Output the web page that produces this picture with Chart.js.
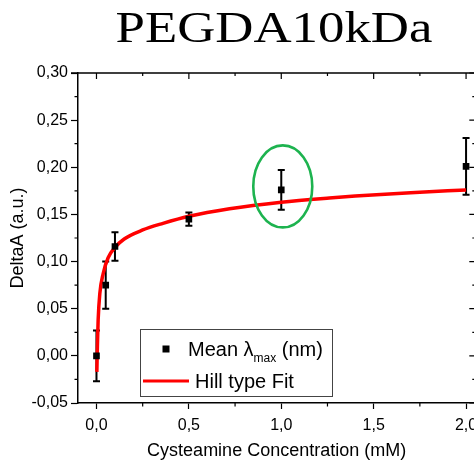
<!DOCTYPE html>
<html>
<head>
<meta charset="utf-8">
<script src="https://cdn.jsdelivr.net/npm/chart.js"></script>
<style>
html, body { margin: 0; padding: 0; background: #fff; overflow: hidden; }
#wrap { width: 480px; height: 469px; }
</style>
</head>
<body>
<div id="wrap"><canvas id="chart" width="480" height="469"></canvas></div>
<script>
const chartTitle = "PEGDA10kDa";

// measured points (mean +/- error)
const concentration = [0, 0.05, 0.1, 0.5, 1.0, 2.0];
const meanDeltaA = [0.000, 0.075, 0.116, 0.145, 0.176, 0.201];
const errDeltaA = [0.027, 0.025, 0.015, 0.007, 0.021, 0.030];

// Hill fit curve
const fitX = [0.002, 0.005, 0.009, 0.018, 0.036, 0.063, 0.10, 0.15, 0.25, 0.36, 0.50, 0.72, 1.00, 1.26, 1.40, 1.70, 2.00];
const fitY = [-0.017, 0.010, 0.038, 0.066, 0.087, 0.104, 0.115, 0.124, 0.1335, 0.1405, 0.148, 0.156, 0.163, 0.1675, 0.1695, 0.173, 0.176];

const xTicks = [0, 0.5, 1.0, 1.5, 2.0];
const yTicks = [-0.05, 0, 0.05, 0.10, 0.15, 0.20, 0.25, 0.30];
const circledIndex = 4;

const fmt = (v, d) => v.toFixed(d).replace(".", ",");
const mids = (arr) => arr.slice(1).map((v, i) => (v + arr[i]) / 2);

// error bars under everything
const errorBars = {
    id: "errorBars",
    beforeDatasetsDraw(chart) {
        const { ctx, scales: { x, y } } = chart;
        ctx.save();
        ctx.strokeStyle = "#000";
        ctx.lineWidth = 2;
        ctx.beginPath();
        concentration.forEach((c, i) => {
            const px = x.getPixelForValue(c);
            const top = y.getPixelForValue(meanDeltaA[i] + errDeltaA[i]);
            const bot = y.getPixelForValue(meanDeltaA[i] - errDeltaA[i]);
            ctx.moveTo(px, top); ctx.lineTo(px, bot);
            ctx.moveTo(px - 3.5, top); ctx.lineTo(px + 3.5, top);
            ctx.moveTo(px - 3.5, bot); ctx.lineTo(px + 3.5, bot);
        });
        ctx.stroke();
        ctx.restore();
    },
};

// mirrored top/right axes, minor ticks, title, legend, green mark
const decorations = {
    id: "decorations",
    afterDraw(chart) {
        const { ctx, chartArea: a, scales: { x, y } } = chart;
        ctx.save();
        ctx.strokeStyle = "#000";
        ctx.lineWidth = 1.5;
        ctx.beginPath();
        ctx.moveTo(a.left - 7, a.top);
        ctx.lineTo(a.right, a.top);
        ctx.lineTo(a.right, a.bottom);
        ctx.stroke();

        ctx.lineWidth = 1.2;
        ctx.beginPath();
        xTicks.forEach((v) => {
            const p = x.getPixelForValue(v);
            ctx.moveTo(p, a.top); ctx.lineTo(p, a.top + 6);
        });
        yTicks.forEach((v) => {
            const p = y.getPixelForValue(v);
            ctx.moveTo(a.right, p); ctx.lineTo(a.right - 6, p);
        });
        mids(xTicks).forEach((v) => {
            const p = x.getPixelForValue(v);
            ctx.moveTo(p, a.top); ctx.lineTo(p, a.top + 3);
            ctx.moveTo(p, a.bottom); ctx.lineTo(p, a.bottom + 3.5);
        });
        mids(yTicks).forEach((v) => {
            const p = y.getPixelForValue(v);
            ctx.moveTo(a.right, p); ctx.lineTo(a.right - 3, p);
            ctx.moveTo(a.left, p); ctx.lineTo(a.left - 3.5, p);
        });
        ctx.stroke();

        // green ellipse around one point
        const cx = x.getPixelForValue(concentration[circledIndex]);
        const cy = y.getPixelForValue(meanDeltaA[circledIndex]);
        ctx.strokeStyle = "#1db34f";
        ctx.lineWidth = 2.6;
        ctx.beginPath();
        ctx.ellipse(cx + 1.5, cy - 3.5, 29.5, 41, 0, 0, Math.PI * 2);
        ctx.stroke();

        // title (stretched serif, Garamond-like)
        ctx.save();
        ctx.translate(274, 42);
        ctx.scale(1.2, 1);
        ctx.fillStyle = "#000";
        ctx.font = '44px "Liberation Serif", serif';
        ctx.textAlign = "center";
        ctx.textBaseline = "alphabetic";
        ctx.fillText(chartTitle, 0, 0);
        ctx.restore();

        // legend
        ctx.strokeStyle = "#444";
        ctx.lineWidth = 1;
        ctx.strokeRect(140.5, 329.5, 192, 67);
        ctx.fillStyle = "#000";
        ctx.fillRect(162.5, 345.5, 7, 7);
        ctx.strokeStyle = "#ff0000";
        ctx.lineWidth = 3;
        ctx.beginPath();
        ctx.moveTo(143, 381); ctx.lineTo(189, 381);
        ctx.stroke();

        ctx.fillStyle = "#000";
        ctx.textBaseline = "alphabetic";
        ctx.textAlign = "left";
        ctx.font = '20px "Liberation Sans", Arial, sans-serif';
        let tx = 188;
        ctx.fillText("Mean \u03bb", tx, 356);
        tx += ctx.measureText("Mean \u03bb").width;
        ctx.font = '12px "Liberation Sans", Arial, sans-serif';
        ctx.fillText("max", tx, 362);
        tx += ctx.measureText("max").width;
        ctx.font = '20px "Liberation Sans", Arial, sans-serif';
        ctx.fillText(" (nm)", tx, 356);
        ctx.fillText("Hill type Fit", 195, 388);
        ctx.restore();
    },
};

const axisFont = { family: '"Liberation Sans", Arial, sans-serif', size: 16 };
const titleFont = { family: '"Liberation Sans", Arial, sans-serif', size: 18 };

new Chart(document.getElementById("chart"), {
    type: "scatter",
    data: {
        datasets: [
            {
                label: "Mean \u03bbmax (nm)",
                data: concentration.map((c, i) => ({ x: c, y: meanDeltaA[i] })),
                pointStyle: "rect",
                pointRadius: 4.7,
                pointHoverRadius: 4.7,
                backgroundColor: "#000",
                borderColor: "#000",
                borderWidth: 0,
                order: 1,
            },
            {
                label: "Hill type Fit",
                data: fitX.map((v, i) => ({ x: v, y: fitY[i] })),
                showLine: true,
                borderColor: "#ff0000",
                borderWidth: 3.5,
                pointRadius: 0,
                cubicInterpolationMode: "monotone",
                order: 2,
            },
        ],
    },
    options: {
        responsive: false,
        animation: false,
        devicePixelRatio: 1,
        layout: { padding: { top: 73, right: 4, left: 0, bottom: 0 } },
        plugins: {
            legend: { display: false },
            tooltip: { enabled: false },
            title: { display: false },
        },
        scales: {
            x: {
                type: "linear",
                min: -0.1,
                max: 2.05,
                afterFit: (s) => { s.height = 66; s.paddingLeft = 0; s.paddingRight = 0; },
                afterBuildTicks: (s) => { s.ticks = xTicks.map((v) => ({ value: v })); },
                border: { color: "#000", width: 1.5 },
                grid: { drawOnChartArea: false, tickLength: 6, color: "#000", tickWidth: 1.2 },
                ticks: { color: "#000", font: axisFont, padding: 7, callback: (v) => fmt(v, 1) },
                title: {
                    display: true,
                    text: "Cysteamine Concentration (mM)",
                    color: "#000",
                    font: titleFont,
                    padding: { top: 0, bottom: 7 },
                },
            },
            y: {
                type: "linear",
                min: -0.05,
                max: 0.30,
                afterFit: (s) => { s.width = 78; s.paddingTop = 0; s.paddingBottom = 0; },
                afterBuildTicks: (s) => { s.ticks = yTicks.map((v) => ({ value: v })); },
                border: { color: "#000", width: 1.5 },
                grid: { drawOnChartArea: false, tickLength: 7, color: "#000", tickWidth: 1.2 },
                ticks: { color: "#000", font: axisFont, padding: 3, callback: (v) => fmt(v, 2) },
                title: {
                    display: true,
                    text: "DeltaA (a.u.)",
                    color: "#000",
                    font: titleFont,
                    padding: { top: 7, bottom: 0 },
                },
            },
        },
    },
    plugins: [errorBars, decorations],
});
</script>
</body>
</html>
